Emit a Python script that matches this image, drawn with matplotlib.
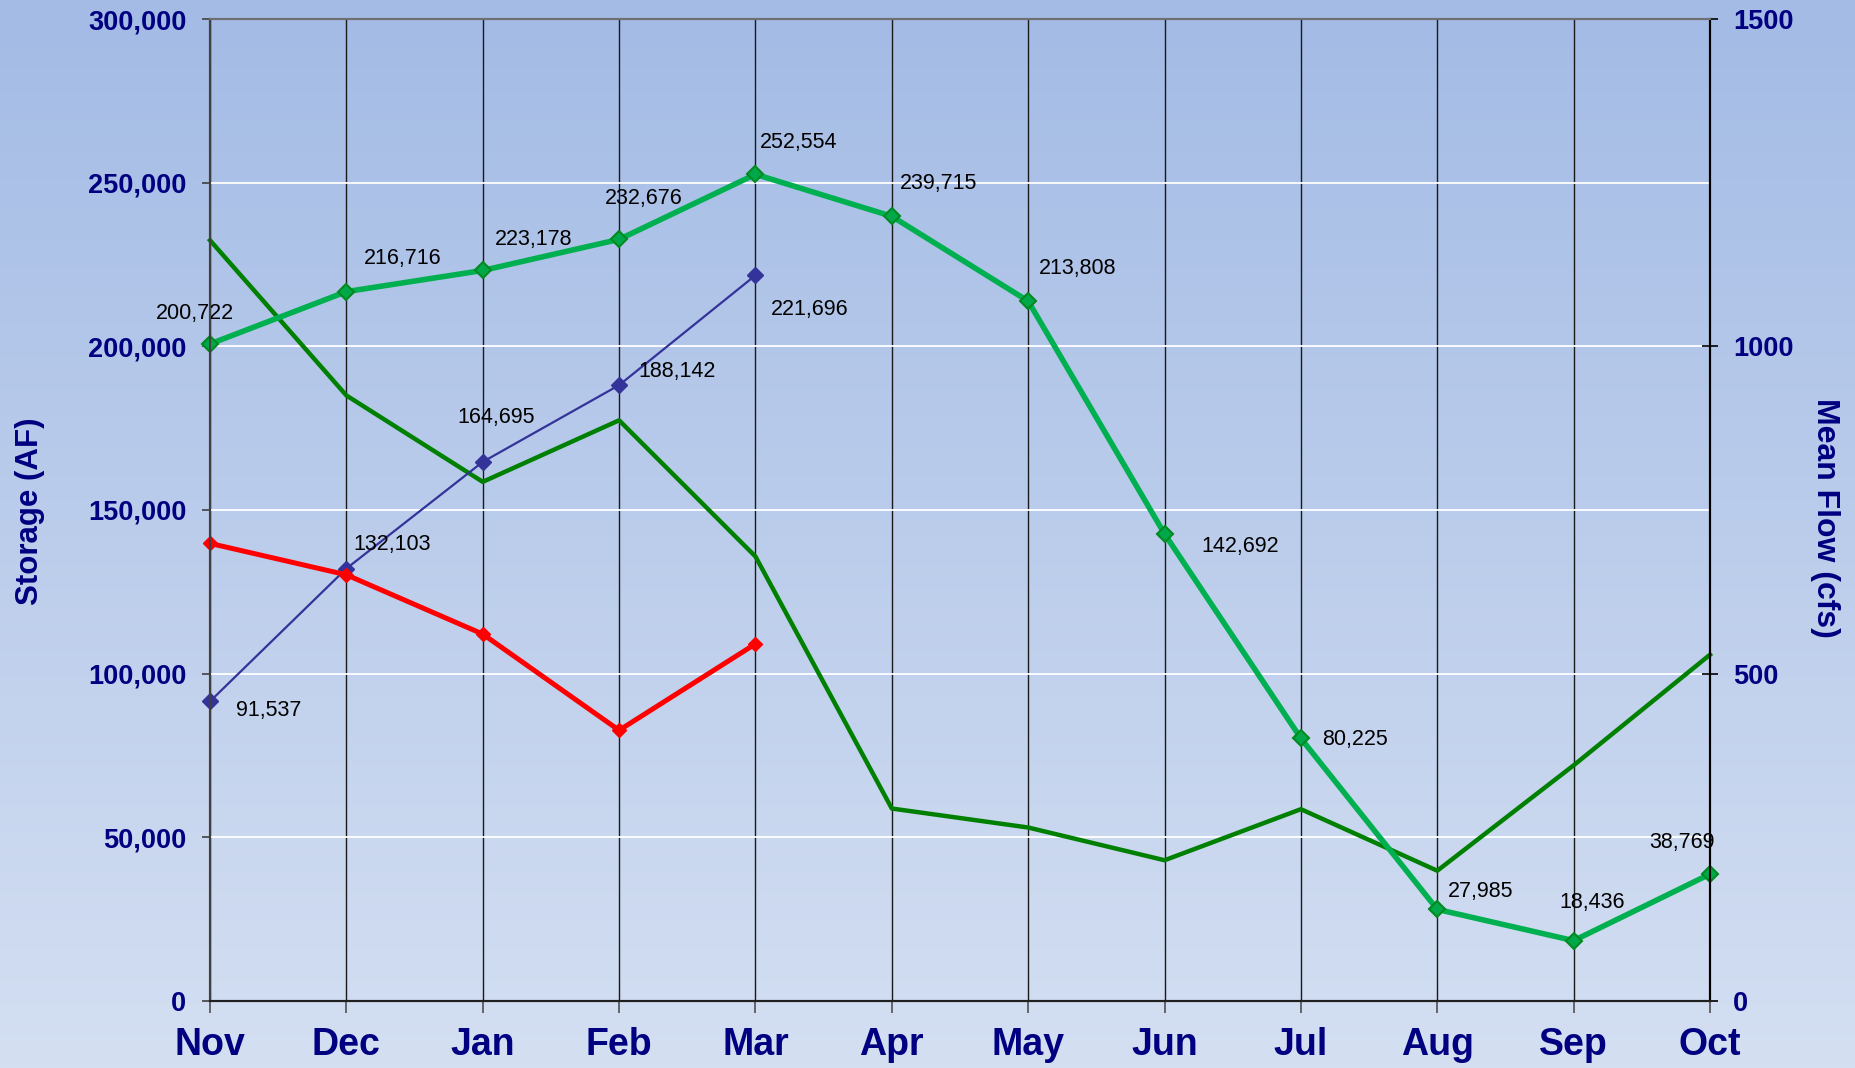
import matplotlib
matplotlib.use("Agg")
import matplotlib.pyplot as plt
import matplotlib.transforms as mtransforms
import numpy as np

plt.rcParams['font.family'] = ['Liberation Sans', 'DejaVu Sans']

months = ['Nov', 'Dec', 'Jan', 'Feb', 'Mar', 'Apr', 'May', 'Jun', 'Jul', 'Aug', 'Sep', 'Oct']

# storage (AF), light green, labelled
storage_avg = [200722, 216716, 223178, 232676, 252554, 239715, 213808,
               142692, 80225, 27985, 18436, 38769]
# storage (AF), blue, labelled, Nov-Mar
storage_cur = [91537, 132103, 164695, 188142, 221696]
# storage (AF), red, unlabelled, Nov-Mar
storage_red = [139800, 130200, 112100, 82700, 109100]
# mean flow (cfs), dark green, right axis
mean_flow = [1162, 925, 793, 887, 679, 294, 265, 215, 293, 199, 360, 529]

# label offsets in pixels (style, not data)
avg_off = [(-15, 30), (56, 33), (51, 31), (25, 41), (43, 32), (47, 33), (49, 33),
           (76, -13), (54, -1), (43, 18), (18, 38), (-28, 32)]
cur_off = [(59, -9), (46, 24), (13, 44), (58, 14), (54, -34)]

W, H = 1856, 1068
fig = plt.figure(figsize=(W / 100, H / 100), dpi=100)

# background gradient over the whole figure
bg = fig.add_axes([0, 0, 1, 1], zorder=-10)
top_c = np.array([163, 187, 229]) / 255
bot_c = np.array([212, 223, 242]) / 255
t = np.linspace(0, 1, 256)[:, None]
grad = top_c[None, :] * (1 - t) + bot_c[None, :] * t
bg.imshow(grad[:, None, :], aspect='auto', extent=[0, 1, 0, 1])
bg.axis('off')

ax = fig.add_axes([210 / W, 1 - 1001 / H, 1500 / W, 982 / H])
ax.patch.set_alpha(0)
ax2 = ax.twinx()
ax2.patch.set_alpha(0)

x = np.arange(len(months))
ax.set_xlim(0, 11)
ax.set_ylim(0, 300000)
ax2.set_ylim(0, 1500)

ax.set_xticks(x)
ax.set_xticklabels(months)
ax.set_yticks(np.arange(0, 300001, 50000))
ax.yaxis.set_major_formatter(matplotlib.ticker.FuncFormatter(lambda v, p: f'{int(v):,}'))
ax2.set_yticks([0, 500, 1000, 1500])

navy = '#000080'
ax.tick_params(axis='y', direction='out', length=6, width=1.2, color='#404040',
               pad=11, labelsize=19.5, labelcolor=navy)
ax.tick_params(axis='x', direction='out', length=8.5, width=1.2, color='#505050',
               pad=10, labelsize=27, labelcolor=navy)
ax2.tick_params(axis='y', direction='inout', length=11, width=1.2, color='black',
                pad=11, labelsize=19.5, labelcolor=navy)
for lab in ax.get_xticklabels() + ax.get_yticklabels() + ax2.get_yticklabels():
    lab.set_fontweight('bold')

# grid
ax.grid(axis='y', color='white', lw=1.3, zorder=0)
ax.grid(axis='x', color='#1a1a1a', lw=1.0, zorder=0)
ax.set_axisbelow(True)

for a in (ax, ax2):
    a.spines['left'].set_color('#404040')
    a.spines['left'].set_linewidth(1.5)
    a.spines['top'].set_color('#707070')
    a.spines['top'].set_linewidth(1.5)
    a.spines['bottom'].set_color('#202020')
    a.spines['bottom'].set_linewidth(1.5)
    a.spines['right'].set_color('black')
    a.spines['right'].set_linewidth(1.5)

# flow drawn in ax with the right axis y scale so stacking order works
flow_tr = mtransforms.blended_transform_factory(ax.transData, ax2.transData)
ax.plot(x, mean_flow, color='#008000', lw=3.2, transform=flow_tr, zorder=2, clip_on=False)

ax.plot(x[:len(storage_cur)], storage_cur, color='#333399', lw=1.6, marker='D',
        ms=8, mfc='#333399', mec='#333399', zorder=3, clip_on=False)
ax.plot(x[:len(storage_red)], storage_red, color='#ff0000', lw=3.6, marker='D',
        ms=7, mfc='#ff0000', mec='#ff0000', zorder=4, clip_on=False)
ax.plot(x, storage_avg, color='#00b050', lw=4.0, marker='D', ms=8.5,
        mfc='#00a84a', mec='#008a20', mew=1.5, zorder=5, clip_on=False)

for xi, v, off in zip(x, storage_avg, avg_off):
    ax.annotate(f'{v:,}', (xi, v), xytext=off, textcoords='offset pixels',
                ha='center', va='center', fontsize=15.5, color='black', zorder=6)
for xi, v, off in zip(x, storage_cur, cur_off):
    ax.annotate(f'{v:,}', (xi, v), xytext=off, textcoords='offset pixels',
                ha='center', va='center', fontsize=15.5, color='black', zorder=6)

fig.text(30 / W, 1 - 511 / H, 'Storage (AF)', rotation=90, ha='center', va='center',
         fontsize=22.5, fontweight='bold', color=navy)
fig.text(1825 / W, 1 - 518 / H, 'Mean Flow (cfs)', rotation=-90, ha='center', va='center',
         fontsize=23, fontweight='bold', color=navy)

fig.savefig('out.png', dpi=100)
